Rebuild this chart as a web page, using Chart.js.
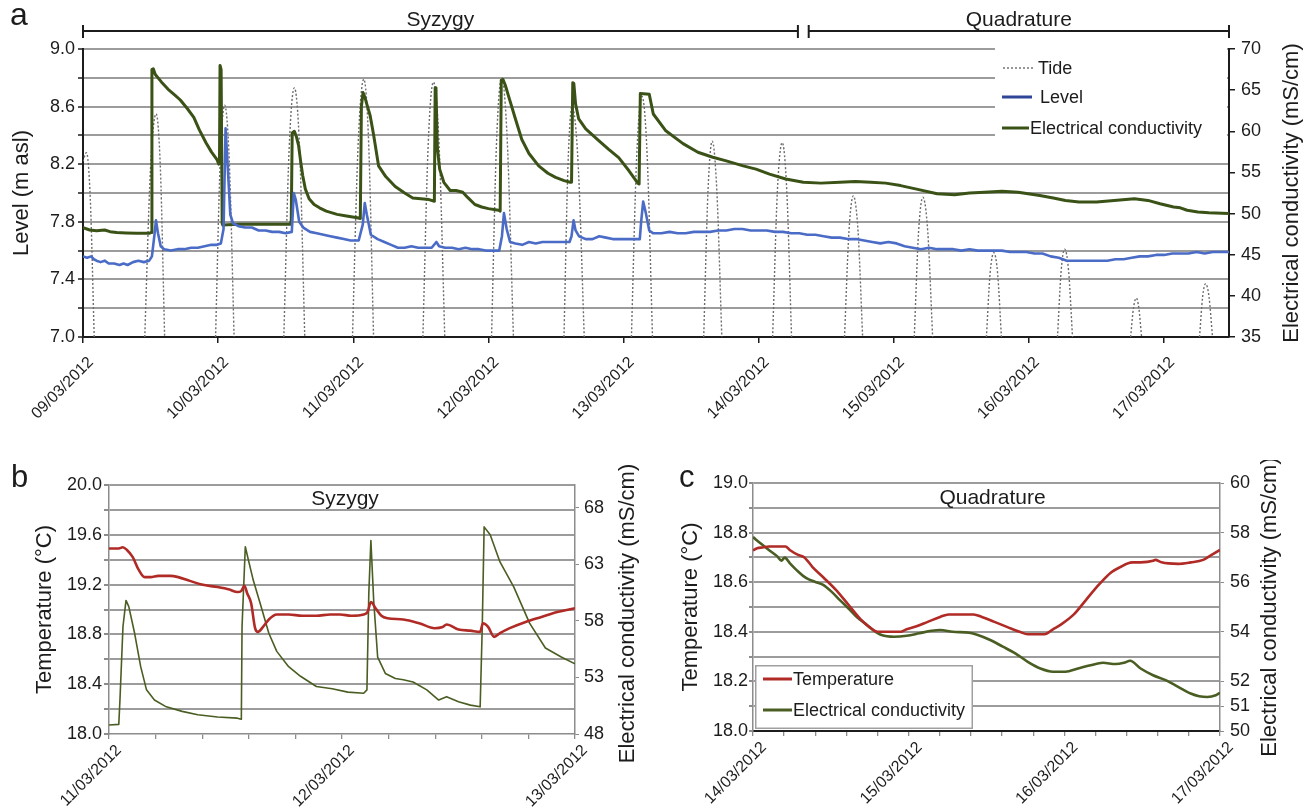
<!DOCTYPE html>
<html>
<head>
<meta charset="utf-8">
<title>Tide, level, conductivity and temperature</title>
<script src="https://cdn.jsdelivr.net/npm/chart.js"></script>
<style>
  html, body { margin: 0; padding: 0; background: #fff; }
  #fig { position: relative; width: 1314px; height: 807px; overflow: hidden; background: #fff; }
  .panel { position: absolute; }
</style>
</head>
<body>
<div id="fig">
  <div class="panel" style="left:0;top:0;width:1314px;height:440px"><canvas id="chartA"></canvas></div>
  <div class="panel" style="left:0;top:460px;width:660px;height:347px"><canvas id="chartB"></canvas></div>
  <div class="panel" style="left:660px;top:460px;width:654px;height:347px"><canvas id="chartC"></canvas></div>
</div>
<script>
// ---------- Panel a: 09/03/2012 - 17/03/2012 (x = days since 09/03 00:00) ----------
const dateLabelsA = ['09/03/2012','10/03/2012','11/03/2012','12/03/2012','13/03/2012',
                     '14/03/2012','15/03/2012','16/03/2012','17/03/2012'];
const dayTicksA = [0, 1, 2, 3, 4, 5, 6, 7, 8];
const levelTicks = [7.0, 7.2, 7.4, 7.6, 7.8, 8.0, 8.2, 8.4, 8.6, 8.8, 9.0];
const levelTickLabels = ['7.0', '', '7.4', '', '7.8', '', '8.2', '', '8.6', '', '9.0'];
const ecTicksA = [35, 40, 45, 50, 55, 60, 65, 70];

const phaseNames = ['Syzygy', 'Quadrature'];
const phaseStartDay = [0, 5.37];
const phaseEndDay = [5.29, 8.48];

// Tide (m): only the crests above 7 m are shown; null separates crests
const tideDay = [
  0, 0.025, 0.054, 0.083, 0.09,
  0.457, 0.499, 0.541, 0.573, 0.604, 0.61,
  0.981, 1.015, 1.048, 1.083, 1.118, 1.12,
  1.486, 1.525, 1.564, 1.603, 1.641, 1.65,
  1.994, 2.036, 2.078, 2.114, 2.150, 2.16,
  2.515, 2.554, 2.593, 2.635, 2.677, 2.68,
  3.023, 3.060, 3.098, 3.140, 3.185, 3.19,
  3.559, 3.589, 3.619, 3.664, 3.709, 3.71,
  4.058, 4.097, 4.137, 4.175, 4.214, 4.22,
  4.593, 4.625, 4.656, 4.690, 4.727, 4.73,
  5.103, 5.138, 5.174, 5.208, 5.243, 5.25,
  5.635, 5.668, 5.700, 5.735, 5.769, 5.77,
  6.151, 6.183, 6.215, 6.251, 6.287, 6.29,
  6.685, 6.712, 6.740, 6.768, 6.796, 6.80,
  7.211, 7.238, 7.264, 7.293, 7.322, 7.33,
  7.752, 7.773, 7.794, 7.813, 7.833, 7.84,
  8.262, 8.285, 8.307, 8.332, 8.358
];
const tideLevel = [
  8.22, 8.28, 7.96, 7.0, null,
  7.0, 8.16, 8.55, 8.16, 7.0, null,
  7.0, 8.21, 8.61, 8.21, 7.0, null,
  7.0, 8.30, 8.73, 8.30, 7.0, null,
  7.0, 8.34, 8.79, 8.34, 7.0, null,
  7.0, 8.33, 8.77, 8.33, 7.0, null,
  7.0, 8.35, 8.80, 8.35, 7.0, null,
  7.0, 8.20, 8.60, 8.20, 7.0, null,
  7.0, 8.25, 8.67, 8.25, 7.0, null,
  7.0, 8.02, 8.36, 8.02, 7.0, null,
  7.0, 8.01, 8.35, 8.01, 7.0, null,
  7.0, 7.735, 7.98, 7.735, 7.0, null,
  7.0, 7.73, 7.97, 7.73, 7.0, null,
  7.0, 7.44, 7.585, 7.44, 7.0, null,
  7.0, 7.46, 7.61, 7.46, 7.0, null,
  7.0, 7.20, 7.27, 7.20, 7.0, null,
  7.0, 7.28, 7.37, 7.28, 7.0
];

// Piezometric level (m asl)
const levelDay = [
  0, 0.03, 0.06, 0.08, 0.10, 0.13, 0.16, 0.19, 0.23, 0.27,
  0.30, 0.33, 0.37, 0.41, 0.45, 0.49, 0.51, 0.53, 0.54, 0.555,
  0.575, 0.60, 0.65, 0.70, 0.75, 0.80, 0.85, 0.90, 0.95, 0.99,
  1.02, 1.04, 1.055, 1.07, 1.09, 1.11, 1.15, 1.20, 1.25, 1.30,
  1.35, 1.40, 1.45, 1.50, 1.545, 1.56, 1.575, 1.60, 1.63, 1.68,
  1.73, 1.78, 1.83, 1.88, 1.93, 1.98, 2.04, 2.07, 2.085, 2.10,
  2.13, 2.18, 2.23, 2.28, 2.33, 2.38, 2.43, 2.48, 2.53, 2.58,
  2.615, 2.635, 2.68, 2.73, 2.78, 2.83, 2.88, 2.93, 2.98, 3.03,
  3.08, 3.10, 3.115, 3.135, 3.16, 3.20, 3.25, 3.30, 3.35, 3.40,
  3.45, 3.50, 3.55, 3.60, 3.615, 3.63, 3.645, 3.67, 3.72, 3.77,
  3.82, 3.87, 3.92, 3.97, 4.02, 4.07, 4.12, 4.13, 4.145, 4.165,
  4.19, 4.22, 4.28, 4.34, 4.40, 4.46, 4.52, 4.58, 4.64, 4.70,
  4.76, 4.82, 4.88, 4.94, 5.00, 5.06, 5.12, 5.18, 5.24, 5.30,
  5.36, 5.42, 5.48, 5.54, 5.60, 5.66, 5.72, 5.78, 5.84, 5.90,
  5.96, 6.02, 6.08, 6.14, 6.20, 6.26, 6.32, 6.38, 6.44, 6.50,
  6.56, 6.62, 6.68, 6.74, 6.80, 6.86, 6.92, 6.98, 7.04, 7.10,
  7.16, 7.22, 7.28, 7.34, 7.40, 7.46, 7.52, 7.58, 7.64, 7.70,
  7.76, 7.82, 7.88, 7.94, 8.00, 8.06, 8.12, 8.18, 8.24, 8.30,
  8.36, 8.42, 8.48
];
const levelA = [
  7.56, 7.55, 7.56, 7.54, 7.53, 7.52, 7.53, 7.51, 7.51, 7.50,
  7.51, 7.50, 7.52, 7.53, 7.52, 7.53, 7.56, 7.72, 7.81, 7.72,
  7.63, 7.61, 7.60, 7.61, 7.61, 7.62, 7.62, 7.63, 7.64, 7.64,
  7.65, 7.75, 8.45, 8.20, 7.85, 7.79, 7.77, 7.76, 7.76, 7.74,
  7.74, 7.73, 7.73, 7.72, 7.73, 8.00, 7.95, 7.80, 7.76, 7.73,
  7.72, 7.71, 7.70, 7.69, 7.68, 7.67, 7.67, 7.78, 7.93, 7.85,
  7.71, 7.68, 7.66, 7.64, 7.62, 7.62, 7.63, 7.62, 7.62, 7.62,
  7.66, 7.63, 7.62, 7.62, 7.61, 7.62, 7.61, 7.61, 7.60, 7.60,
  7.60, 7.70, 7.86, 7.75, 7.66, 7.65, 7.64, 7.66, 7.65, 7.66,
  7.66, 7.66, 7.66, 7.66, 7.70, 7.81, 7.74, 7.70, 7.68, 7.68,
  7.70, 7.69, 7.68, 7.68, 7.68, 7.68, 7.68, 7.80, 7.94, 7.86,
  7.74, 7.72, 7.72, 7.73, 7.72, 7.72, 7.73, 7.73, 7.73, 7.74,
  7.74, 7.75, 7.75, 7.74, 7.74, 7.74, 7.73, 7.73, 7.72, 7.72,
  7.71, 7.71, 7.70, 7.69, 7.69, 7.68, 7.68, 7.67, 7.66, 7.65,
  7.66, 7.65, 7.63, 7.62, 7.61, 7.62, 7.61, 7.61, 7.61, 7.60,
  7.61, 7.60, 7.60, 7.60, 7.60, 7.59, 7.59, 7.59, 7.58, 7.58,
  7.56, 7.55, 7.53, 7.53, 7.53, 7.53, 7.53, 7.53, 7.54, 7.54,
  7.55, 7.56, 7.56, 7.57, 7.57, 7.58, 7.58, 7.58, 7.59, 7.58,
  7.59, 7.59, 7.59
];

// Electrical conductivity (mS/cm)
const ecDayA = [
  0, 0.05, 0.10, 0.16, 0.20, 0.25, 0.32, 0.40, 0.49, 0.504,
  0.510, 0.520, 0.535, 0.58, 0.63, 0.68, 0.72, 0.77, 0.82, 0.86,
  0.91, 0.95, 0.99, 1.005, 1.010, 1.014, 1.022, 1.030, 1.034, 1.07,
  1.15, 1.25, 1.40, 1.535, 1.541, 1.548, 1.564, 1.580, 1.595, 1.610,
  1.626, 1.645, 1.673, 1.71, 1.75, 1.80, 1.88, 1.95, 2.03, 2.052,
  2.060, 2.072, 2.085, 2.100, 2.125, 2.150, 2.187, 2.24, 2.31, 2.38,
  2.44, 2.50, 2.56, 2.600, 2.606, 2.612, 2.622, 2.639, 2.67, 2.717,
  2.76, 2.81, 2.85, 2.90, 2.95, 3.00, 3.076, 3.087, 3.095, 3.108,
  3.125, 3.154, 3.20, 3.247, 3.30, 3.372, 3.44, 3.497, 3.56, 3.606,
  3.615, 3.624, 3.632, 3.645, 3.668, 3.72, 3.808, 3.89, 3.964, 4.04,
  4.105, 4.115, 4.124, 4.19, 4.22, 4.31, 4.44, 4.55, 4.66, 4.76,
  4.885, 4.98, 5.08, 5.20, 5.33, 5.46, 5.60, 5.715, 5.83, 5.94,
  6.05, 6.16, 6.32, 6.45, 6.56, 6.67, 6.80, 6.92, 7.08, 7.18,
  7.27, 7.37, 7.50, 7.63, 7.78, 7.88, 7.97, 8.07, 8.12, 8.17,
  8.25, 8.33, 8.48
];
const ecA = [
  48.3, 48.0, 47.9, 48.0, 47.8, 47.7, 47.65, 47.6, 47.6, 47.7,
  67.5, 67.6, 66.9, 66.0, 65.1, 64.4, 63.8, 62.8, 61.7, 60.2,
  58.6, 57.5, 56.6, 56.0, 56.3, 68.0, 67.5, 48.8, 48.6, 48.65,
  48.7, 48.7, 48.7, 48.7, 49.2, 59.8, 60.0, 59.3, 58.3, 56.4,
  54.6, 53.0, 51.8, 51.1, 50.7, 50.3, 49.9, 49.7, 49.5, 49.4,
  63.0, 64.7, 64.2, 63.3, 61.9, 59.6, 55.8, 54.5, 53.3, 52.5,
  51.9, 51.8, 51.7, 51.5, 65.3, 65.0, 58.0, 55.4, 53.8, 52.8,
  52.8, 52.6, 51.9, 51.1, 50.8, 50.6, 50.4, 50.3, 66.2, 66.3,
  65.6, 64.0, 61.5, 59.0, 57.3, 55.8, 54.9, 54.4, 54.0, 53.8,
  53.8, 65.9, 65.8, 63.3, 61.5, 60.3, 59.0, 57.8, 56.8, 55.2,
  53.7, 53.6, 64.6, 64.5, 62.1, 60.1, 58.5, 57.45, 56.85, 56.4,
  55.8, 55.4, 54.8, 54.2, 53.8, 53.7, 53.8, 53.9, 53.8, 53.7,
  53.4, 53.0, 52.4, 52.3, 52.5, 52.6, 52.7, 52.6, 52.2, 51.9,
  51.6, 51.4, 51.4, 51.6, 51.8, 51.6, 51.2, 50.8, 50.7, 50.4,
  50.2, 50.1, 50.0
];

// ---------- Panel b: 11/03/2012 - 13/03/2012 (syzygy) ----------
const dateLabelsB = ['11/03/2012', '12/03/2012', '13/03/2012'];
const tempTicksB = [18.0, 18.2, 18.4, 18.6, 18.8, 19.0, 19.2, 19.4, 19.6, 19.8, 20.0];
const tempTickLabelsB = ['18.0', '', '18.4', '', '18.8', '', '19.2', '', '19.6', '', '20.0'];
const ecTicksB = [48, 53, 58, 63, 68];

const tempDayB = [
  0, 0.042, 0.059, 0.076, 0.102, 0.127, 0.153, 0.178, 0.212, 0.263,
  0.297, 0.347, 0.398, 0.466, 0.517, 0.551, 0.568, 0.581, 0.593, 0.610,
  0.627, 0.639, 0.661, 0.686, 0.720, 0.771, 0.830, 0.890, 0.950, 0.992,
  1.040, 1.093, 1.110, 1.124, 1.144, 1.169, 1.195, 1.263, 1.331, 1.398,
  1.432, 1.449, 1.500, 1.551, 1.593, 1.605, 1.627, 1.653, 1.678, 1.720,
  1.788, 1.856, 1.924, 2.0
];
const tempB = [
  19.49, 19.49, 19.50, 19.48, 19.42, 19.32, 19.26, 19.26, 19.27, 19.27,
  19.26, 19.23, 19.20, 19.18, 19.16, 19.14, 19.15, 19.19, 19.13, 19.05,
  18.85, 18.82, 18.86, 18.92, 18.96, 18.96, 18.95, 18.95, 18.96, 18.96,
  18.95, 18.96, 18.98, 19.06, 19.01, 18.95, 18.93, 18.92, 18.89, 18.85,
  18.86, 18.88, 18.84, 18.83, 18.82, 18.89, 18.86, 18.78, 18.81, 18.85,
  18.90, 18.94, 18.98, 19.01
];
const ecDayB = [
  0, 0.042, 0.047, 0.060, 0.073, 0.085, 0.110, 0.136, 0.161, 0.195,
  0.246, 0.314, 0.381, 0.466, 0.551, 0.568, 0.571, 0.585, 0.598, 0.619,
  0.653, 0.686, 0.720, 0.771, 0.822, 0.890, 0.958, 1.025, 1.093, 1.107,
  1.115, 1.124, 1.136, 1.153, 1.186, 1.229, 1.263, 1.305, 1.364, 1.415,
  1.449, 1.500, 1.551, 1.593, 1.602, 1.610, 1.636, 1.678, 1.737, 1.805,
  1.873, 1.941, 2.0
];
const ecB = [
  48.8, 48.85, 51.0, 57.5, 59.8, 59.25, 56.9, 53.95, 51.9, 51.0,
  50.4, 50.0, 49.7, 49.5, 49.4, 49.3, 57.5, 64.55, 63.4, 61.6,
  59.25, 56.9, 55.3, 53.95, 53.1, 52.2, 52.0, 51.7, 51.6, 51.9,
  60.4, 65.1, 59.8, 54.8, 53.35, 52.9, 52.8, 52.6, 51.9, 51.0,
  51.3, 50.85, 50.55, 50.4, 57.5, 66.3, 65.6, 63.2, 61.0, 57.8,
  55.6, 54.8, 54.2
];

// ---------- Panel c: 14/03/2012 - 17/03/2012 (quadrature) ----------
const dateLabelsC = ['14/03/2012', '15/03/2012', '16/03/2012', '17/03/2012'];
const tempTicksC = [18.0, 18.1, 18.2, 18.3, 18.4, 18.5, 18.6, 18.7, 18.8, 18.9, 19.0];
const tempTickLabelsC = ['18.0', '', '18.2', '', '18.4', '', '18.6', '', '18.8', '', '19.0'];
const ecTicksC = [50, 51, 52, 54, 56, 58, 60];

const tempDayC = [
  0, 0.027, 0.062, 0.102, 0.209, 0.236, 0.290, 0.330, 0.384, 0.451,
  0.531, 0.612, 0.692, 0.746, 0.800, 0.880, 0.947, 0.987, 1.041, 1.122,
  1.202, 1.256, 1.336, 1.417, 1.470, 1.551, 1.631, 1.712, 1.765, 1.873,
  1.927, 1.980, 2.061, 2.141, 2.222, 2.302, 2.356, 2.436, 2.490, 2.570,
  2.584, 2.624, 2.731, 2.812, 2.892, 2.946, 3.0
];
const tempC = [
  18.728, 18.737, 18.74, 18.744, 18.744, 18.73, 18.71, 18.70, 18.66, 18.62,
  18.57, 18.51, 18.45, 18.42, 18.40, 18.40, 18.40, 18.41, 18.42, 18.44,
  18.46, 18.47, 18.47, 18.47, 18.46, 18.44, 18.42, 18.40, 18.39, 18.39,
  18.41, 18.43, 18.47, 18.53, 18.59, 18.64, 18.66, 18.68, 18.68, 18.686,
  18.69, 18.68, 18.674, 18.68, 18.69, 18.71, 18.73
];
const ecDayC = [
  0, 0.048, 0.102, 0.156, 0.182, 0.204, 0.236, 0.290, 0.343, 0.397,
  0.451, 0.504, 0.558, 0.612, 0.665, 0.719, 0.773, 0.826, 0.907, 0.987,
  1.068, 1.148, 1.202, 1.283, 1.390, 1.444, 1.524, 1.605, 1.685, 1.765,
  1.846, 1.927, 2.007, 2.088, 2.168, 2.248, 2.329, 2.383, 2.423, 2.490,
  2.570, 2.651, 2.731, 2.812, 2.866, 2.919, 2.973, 3.0
];
const ecC = [
  57.82, 57.57, 57.30, 57.04, 56.87, 56.99, 56.77, 56.43, 56.16, 56.02,
  55.89, 55.62, 55.28, 54.95, 54.61, 54.34, 54.07, 53.87, 53.80, 53.84,
  53.94, 54.04, 54.07, 54.00, 53.96, 53.87, 53.67, 53.40, 53.13, 52.79,
  52.52, 52.39, 52.39, 52.52, 52.65, 52.75, 52.70, 52.75, 52.83, 52.52,
  52.25, 52.05, 51.78, 51.51, 51.40, 51.37, 51.44, 51.54
];

// ---------- styling ----------
const FONT = '"Liberation Sans", Arial, Helvetica, sans-serif';
const INK = '#1c1c1c';
const GRID = '#9c9c9c';
const BLUE = '#4a6bc6';
const OLIVE = '#3b5217';
const OLIVE_THIN = '#4a5d22';
const RED = '#b02a26';
const TIDE = '#6c6c6c';

Chart.defaults.font.family = FONT;
Chart.defaults.color = INK;

const pts = (xs, ys) => xs.map((x, i) => ({ x: x, y: ys[i] }));
const fixedTicks = list => scale => { scale.ticks = list.map(v => ({ value: v })); };
const fifthsOfDay = days => scale => {
  const t = [];
  for (let i = 0; i <= days * 5; i++) t.push({ value: i / 5 });
  scale.ticks = t;
};
const dayLabel = labels => v => {
  const i = Math.round(v);
  return Math.abs(v - i) < 1e-6 ? labels[i] : '';
};
const hideAt = (val, col) => c => (c.tick && Math.abs(c.tick.value - val) < 1e-9) ? 'rgba(0,0,0,0)' : col;

// Axis titles, panel letters, inner titles, phase brackets and boxed legends
const decor = {
  id: 'decor',
  beforeDatasetsDraw(chart, args, o) {
    const lg = o.legend;
    if (!lg) return;
    const ctx = chart.ctx;
    ctx.save();
    ctx.fillStyle = '#fff';
    ctx.fillRect(lg.x, lg.y, lg.w, lg.h);
    if (lg.border) {
      ctx.strokeStyle = lg.border;
      ctx.lineWidth = 1.5;
      ctx.strokeRect(lg.x + 0.75, lg.y + 0.75, lg.w - 1.5, lg.h - 1.5);
    }
    ctx.font = lg.size + 'px ' + FONT;
    ctx.textBaseline = 'middle';
    ctx.textAlign = 'left';
    lg.items.forEach(it => {
      const ds = chart.data.datasets[it.ds];
      ctx.beginPath();
      ctx.setLineDash(it.dash || []);
      ctx.strokeStyle = it.color || ds.borderColor;
      ctx.lineWidth = it.width;
      ctx.moveTo(it.x0, it.y);
      ctx.lineTo(it.x1, it.y);
      ctx.stroke();
      ctx.setLineDash([]);
      ctx.fillStyle = INK;
      ctx.fillText(ds.label, it.tx, it.y + 1);
    });
    ctx.restore();
  },
  afterDraw(chart, args, o) {
    const ctx = chart.ctx, a = chart.chartArea;
    const midY = (a.top + a.bottom) / 2;
    ctx.save();
    ctx.fillStyle = INK;
    (o.sideTitles || []).forEach(s => {
      ctx.save();
      ctx.translate(s.x, midY + (s.dy || 0));
      ctx.rotate(-Math.PI / 2);
      ctx.font = (s.size || 22) + 'px ' + FONT;
      ctx.textAlign = 'center';
      ctx.textBaseline = 'middle';
      ctx.fillText(s.text, 0, 0);
      ctx.restore();
    });
    if (o.letter) {
      ctx.font = o.letter.size + 'px ' + FONT;
      ctx.textAlign = 'left';
      ctx.textBaseline = 'alphabetic';
      ctx.fillText(o.letter.text, o.letter.x, o.letter.y);
    }
    if (o.inner) {
      ctx.font = '21px ' + FONT;
      ctx.textAlign = 'center';
      ctx.textBaseline = 'alphabetic';
      ctx.fillText(o.inner.text, (a.left + a.right) / 2 + (o.inner.dx || 0), o.inner.y);
    }
    if (o.phases) {
      const xs = chart.scales.x;
      const y = o.phases.y;
      ctx.strokeStyle = INK;
      ctx.lineWidth = 2;
      phaseNames.forEach((name, i) => {
        const x0 = xs.getPixelForValue(phaseStartDay[i]);
        const x1 = xs.getPixelForValue(phaseEndDay[i]);
        ctx.beginPath();
        ctx.moveTo(x0, y); ctx.lineTo(x1, y);
        ctx.moveTo(x0, y - 6); ctx.lineTo(x0, y + 7);
        ctx.moveTo(x1, y - 6); ctx.lineTo(x1, y + 7);
        ctx.stroke();
        ctx.font = '21px ' + FONT;
        ctx.textAlign = 'center';
        ctx.textBaseline = 'alphabetic';
        ctx.fillText(name, (x0 + x1) / 2, o.phases.textY);
      });
    }
    ctx.restore();
  }
};

const common = {
  responsive: true,
  maintainAspectRatio: false,
  animation: false,
  devicePixelRatio: 1,
  elements: { point: { radius: 0, hoverRadius: 0 }, line: { borderJoinStyle: 'round' } },
  events: []
};

// ---------- Chart a ----------
new Chart(document.getElementById('chartA'), {
  type: 'line',
  data: {
    datasets: [
      { label: 'Tide', data: pts(tideDay, tideLevel), yAxisID: 'y', borderColor: TIDE,
        borderWidth: 1.4, borderDash: [2, 2], cubicInterpolationMode: 'monotone', spanGaps: false, order: 3 },
      { label: 'Level', data: pts(levelDay, levelA), yAxisID: 'y', borderColor: BLUE,
        borderWidth: 2.6, tension: 0, order: 1 },
      { label: 'Electrical conductivity', data: pts(ecDayA, ecA), yAxisID: 'y1', borderColor: OLIVE,
        borderWidth: 3, tension: 0, order: 2 }
    ]
  },
  options: Object.assign({}, common, {
    layout: { padding: { top: 49, left: 0, right: 0, bottom: 0 } },
    scales: {
      x: {
        type: 'linear', min: 0, max: 8.48,
        afterFit: s => { s.height = 103; },
        afterBuildTicks: fixedTicks(dayTicksA),
        grid: { drawOnChartArea: false, drawTicks: true, tickLength: 6, color: INK, lineWidth: 1.5 },
        border: { display: true, color: INK, width: 2 },
        ticks: { autoSkip: false, minRotation: 45, maxRotation: 45, padding: 10, labelOffset: 8,
                 font: { size: 16 }, color: INK, callback: dayLabel(dateLabelsA) }
      },
      y: {
        position: 'left', min: 7, max: 9,
        afterFit: s => { s.width = 83; },
        afterBuildTicks: fixedTicks(levelTicks),
        grid: { color: hideAt(7, GRID), lineWidth: 2, tickLength: 5, tickColor: INK, tickWidth: 1.5 },
        border: { display: true, color: INK, width: 2 },
        ticks: { padding: 3, font: { size: 18 }, color: INK, callback: (v, i) => levelTickLabels[i] }
      },
      y1: {
        position: 'right', min: 35, max: 70,
        afterFit: s => { s.width = 85; },
        afterBuildTicks: fixedTicks(ecTicksA),
        grid: { drawOnChartArea: false, tickLength: 6, color: INK, lineWidth: 1.5 },
        border: { display: true, color: INK, width: 2 },
        ticks: { padding: 6, font: { size: 18 }, color: INK, callback: v => String(v) }
      }
    },
    plugins: {
      legend: { display: false },
      tooltip: { enabled: false },
      decor: {
        sideTitles: [
          { text: 'Level (m asl)', x: 22 },
          { text: 'Electrical conductivity (mS/cm)', x: 1292 }
        ],
        letter: { text: 'a', x: 10, y: 25, size: 32 },
        phases: { y: 31, textY: 26 },
        legend: {
          x: 995, y: 48, w: 232, h: 92, size: 18,
          items: [
            { ds: 0, y: 68, x0: 1003, x1: 1034, tx: 1038, width: 1.4, dash: [2, 2] },
            { ds: 1, y: 97, x0: 1002, x1: 1032, tx: 1040, width: 3, color: '#2f4597' },
            { ds: 2, y: 128, x0: 1002, x1: 1029, tx: 1030, width: 3 }
          ]
        }
      }
    }
  }),
  plugins: [decor]
});

// ---------- Chart b ----------
new Chart(document.getElementById('chartB'), {
  type: 'line',
  data: {
    datasets: [
      { label: 'Temperature', data: pts(tempDayB, tempB), yAxisID: 'y', borderColor: RED,
        borderWidth: 2.6, cubicInterpolationMode: 'monotone', order: 1 },
      { label: 'Electrical conductivity', data: pts(ecDayB, ecB), yAxisID: 'y1', borderColor: OLIVE_THIN,
        borderWidth: 1.6, tension: 0, order: 2 }
    ]
  },
  options: Object.assign({}, common, {
    layout: { padding: { top: 25, left: 0, right: 0, bottom: 0 } },
    scales: {
      x: {
        type: 'linear', min: 0, max: 2,
        afterFit: s => { s.height = 73; },
        afterBuildTicks: fifthsOfDay(2),
        grid: { drawOnChartArea: false, drawTicks: true, tickLength: 5, color: '#8c8c8c', lineWidth: 1.3 },
        border: { display: true, color: '#8c8c8c', width: 1.5 },
        ticks: { autoSkip: false, minRotation: 45, maxRotation: 45, padding: 2, labelOffset: 10,
                 font: { size: 16 }, color: INK, callback: dayLabel(dateLabelsB) }
      },
      y: {
        position: 'left', min: 18, max: 20,
        afterFit: s => { s.width = 109; },
        afterBuildTicks: fixedTicks(tempTicksB),
        grid: { color: hideAt(18, GRID), lineWidth: 2, tickLength: 5, tickColor: '#8c8c8c' },
        border: { display: true, color: '#8c8c8c', width: 1.5 },
        ticks: { padding: 2, font: { size: 18 }, color: INK, callback: (v, i) => tempTickLabelsB[i] }
      },
      y1: {
        position: 'right', min: 48, max: 70,
        afterFit: s => { s.width = 85; },
        afterBuildTicks: fixedTicks(ecTicksB),
        grid: { drawOnChartArea: false, tickLength: 4, color: '#8c8c8c' },
        border: { display: true, color: '#8c8c8c', width: 1.5 },
        ticks: { padding: 5, font: { size: 18 }, color: INK, callback: v => String(v) }
      }
    },
    plugins: {
      legend: { display: false },
      tooltip: { enabled: false },
      decor: {
        sideTitles: [
          { text: 'Temperature (°C)', x: 45 },
          { text: 'Electrical conductivity (mS/cm)', x: 628, dy: 4 }
        ],
        letter: { text: 'b', x: 11, y: 27, size: 31 },
        inner: { text: 'Syzygy', y: 45, dx: 3 }
      }
    }
  }),
  plugins: [decor]
});

// ---------- Chart c ----------
new Chart(document.getElementById('chartC'), {
  type: 'line',
  data: {
    datasets: [
      { label: 'Temperature', data: pts(tempDayC, tempC), yAxisID: 'y', borderColor: RED,
        borderWidth: 2.6, cubicInterpolationMode: 'monotone', order: 1 },
      { label: 'Electrical conductivity', data: pts(ecDayC, ecC), yAxisID: 'y1', borderColor: OLIVE_THIN,
        borderWidth: 2.6, cubicInterpolationMode: 'monotone', order: 2 }
    ]
  },
  options: Object.assign({}, common, {
    layout: { padding: { top: 23, left: 0, right: 0, bottom: 0 } },
    scales: {
      x: {
        type: 'linear', min: 0, max: 3,
        afterFit: s => { s.height = 76; },
        afterBuildTicks: fifthsOfDay(3),
        grid: { drawOnChartArea: false, drawTicks: true, tickLength: 5, color: '#8c8c8c', lineWidth: 1.3 },
        border: { display: true, color: INK, width: 2 },
        ticks: { autoSkip: false, minRotation: 45, maxRotation: 45, padding: 2, labelOffset: 11,
                 font: { size: 16 }, color: INK, callback: dayLabel(dateLabelsC) }
      },
      y: {
        position: 'left', min: 18, max: 19,
        afterFit: s => { s.width = 93; },
        afterBuildTicks: fixedTicks(tempTicksC),
        grid: { color: hideAt(18, GRID), lineWidth: 2, tickLength: 4, tickColor: '#8c8c8c' },
        border: { display: true, color: '#8c8c8c', width: 1.5 },
        ticks: { padding: 1, font: { size: 18 }, color: INK, callback: (v, i) => tempTickLabelsC[i] }
      },
      y1: {
        position: 'right', min: 50, max: 60,
        afterFit: s => { s.width = 94; },
        afterBuildTicks: fixedTicks(ecTicksC),
        grid: { drawOnChartArea: false, tickLength: 4, color: '#8c8c8c' },
        border: { display: true, color: '#8c8c8c', width: 1.5 },
        ticks: { padding: 6, font: { size: 18 }, color: INK, callback: v => String(v) }
      }
    },
    plugins: {
      legend: { display: false },
      tooltip: { enabled: false },
      decor: {
        sideTitles: [
          { text: 'Temperature (°C)', x: 31 },
          { text: 'Electrical conductivity (mS/cm)', x: 610 }
        ],
        letter: { text: 'c', x: 19, y: 27, size: 31 },
        inner: { text: 'Quadrature', y: 44, dx: 6 },
        legend: {
          x: 95, y: 205, w: 218, h: 64, size: 18, border: '#a0a0a0',
          items: [
            { ds: 0, y: 219, x0: 103, x1: 132, tx: 133, width: 3 },
            { ds: 1, y: 250, x0: 103, x1: 132, tx: 133, width: 3 }
          ]
        }
      }
    }
  }),
  plugins: [decor]
});
</script>
</body>
</html>
